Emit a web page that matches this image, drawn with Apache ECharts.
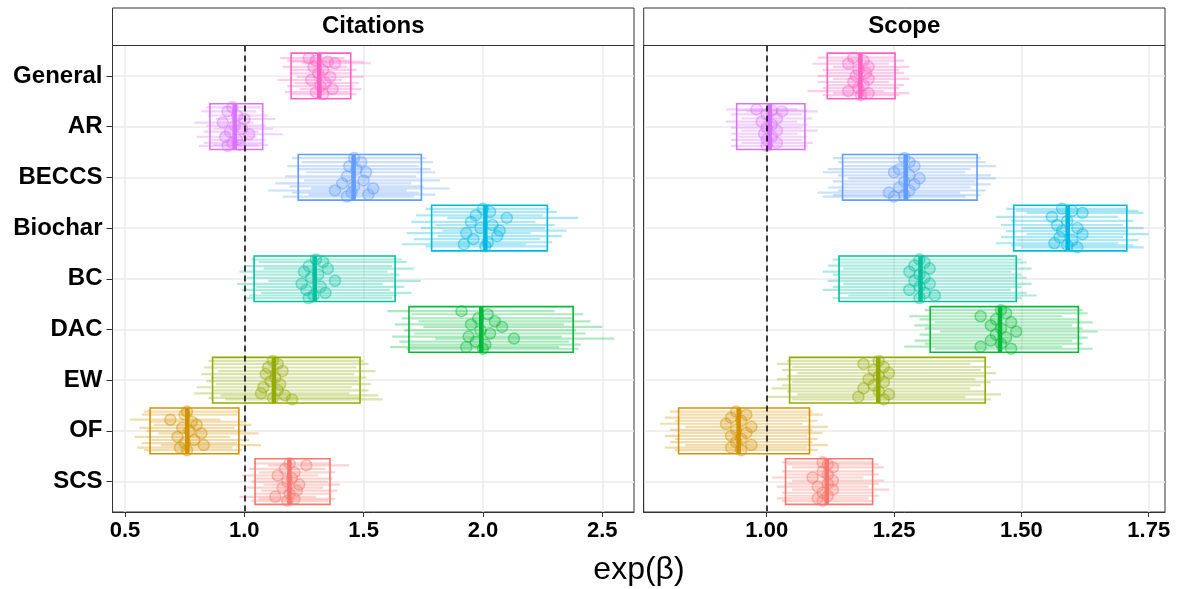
<!DOCTYPE html>
<html>
<head>
<meta charset="utf-8">
<script src="https://cdn.jsdelivr.net/npm/echarts@6/dist/echarts.min.js"></script>
<style>
html,body{margin:0;padding:0;background:#fff;}
#chart{width:1184px;height:589px;}
</style>
</head>
<body>
<div id="chart"></div>
<script>
// ---------- DATA ----------
const categories = ['General','AR','BECCS','Biochar','BC','DAC','EW','OF','SCS'];
const catColors = ['#FF61C3','#DB72FB','#619CFF','#00B9E3','#00C19F','#00BA38','#93AA00','#D39200','#F8766D'];
const panels = ['Citations','Scope'];

// pooled estimate (mean) and interval (box) per category
const citMean = [1.314,0.960,1.458,2.010,1.295,1.993,1.124,0.761,1.189];
const citLo   = [1.196,0.856,1.226,1.785,1.041,1.690,0.867,0.605,1.045];
const citHi   = [1.446,1.077,1.742,2.270,1.632,2.378,1.485,0.977,1.359];
const scoMean = [1.184,1.006,1.273,1.591,1.302,1.458,1.219,0.945,1.118];
const scoLo   = [1.119,0.941,1.149,1.485,1.142,1.321,1.045,0.827,1.037];
const scoHi   = [1.252,1.075,1.413,1.707,1.490,1.612,1.429,1.084,1.208];

const citTicks = [0.5,1.0,1.5,2.0,2.5];
const scoTicks = [1.00,1.25,1.50,1.75];
const refValue = 1;

// individual estimates: [estimate, vertical jitter, lower, upper]
const citGeneral = [[1.27,-0.35,1.15,1.42],[1.30,-0.30,1.18,1.44],[1.35,-0.28,1.20,1.50],[1.38,-0.25,1.24,1.53],[1.29,-0.18,1.16,1.43],[1.33,-0.12,1.20,1.47],[1.31,-0.05,1.19,1.45],[1.36,0.02,1.22,1.50],[1.28,0.08,1.14,1.41],[1.34,0.14,1.21,1.48],[1.32,0.20,1.18,1.46],[1.37,0.26,1.23,1.49],[1.30,0.32,1.17,1.44],[1.33,0.36,1.20,1.47]];
const citAR = [[0.95,-0.38,0.84,1.07],[0.93,-0.30,0.82,1.05],[0.97,-0.22,0.85,1.10],[1.00,-0.15,0.88,1.13],[0.91,-0.08,0.79,1.04],[0.96,-0.02,0.84,1.09],[0.99,0.04,0.87,1.12],[0.94,0.10,0.83,1.06],[1.02,0.15,0.90,1.16],[0.92,0.20,0.80,1.05],[0.97,0.26,0.86,1.09],[0.95,0.32,0.83,1.08],[0.98,0.36,0.87,1.10],[0.93,0.38,0.81,1.06]];
const citBECCS = [[1.46,-0.38,1.20,1.76],[1.49,-0.30,1.24,1.79],[1.44,-0.22,1.18,1.73],[1.47,-0.16,1.22,1.78],[1.51,-0.10,1.26,1.80],[1.43,-0.02,1.17,1.72],[1.50,0.06,1.25,1.82],[1.41,0.12,1.13,1.70],[1.46,0.18,1.19,1.75],[1.54,0.22,1.28,1.86],[1.38,0.26,1.10,1.68],[1.45,0.30,1.20,1.73],[1.52,0.34,1.27,1.80],[1.43,0.38,1.16,1.71]];
const citBiochar = [[2.00,-0.38,1.76,2.28],[2.03,-0.32,1.79,2.31],[1.97,-0.25,1.72,2.25],[2.10,-0.20,1.85,2.40],[1.95,-0.12,1.70,2.22],[2.04,-0.06,1.80,2.30],[1.99,0.00,1.74,2.26],[2.07,0.05,1.83,2.35],[1.93,0.10,1.68,2.20],[2.06,0.16,1.81,2.33],[1.96,0.22,1.71,2.24],[2.02,0.28,1.78,2.29],[1.92,0.32,1.66,2.18],[2.01,0.36,1.76,2.27]];
const citBC = [[1.30,-0.38,1.03,1.66],[1.33,-0.33,1.06,1.68],[1.27,-0.25,1.00,1.62],[1.35,-0.20,1.08,1.71],[1.25,-0.14,0.98,1.60],[1.31,-0.08,1.04,1.65],[1.28,-0.02,1.01,1.63],[1.38,0.04,1.10,1.74],[1.24,0.10,0.97,1.58],[1.32,0.16,1.05,1.67],[1.26,0.22,0.99,1.61],[1.34,0.28,1.07,1.70],[1.29,0.33,1.02,1.64],[1.27,0.38,1.00,1.62]];
const citDAC = [[1.91,-0.36,1.60,2.30],[2.02,-0.30,1.70,2.42],[1.98,-0.22,1.66,2.38],[2.05,-0.16,1.73,2.45],[1.95,-0.10,1.63,2.34],[2.08,-0.05,1.75,2.50],[1.99,0.02,1.67,2.39],[2.03,0.08,1.71,2.43],[1.94,0.14,1.62,2.33],[2.13,0.18,1.80,2.55],[1.97,0.24,1.65,2.36],[2.01,0.30,1.69,2.41],[1.93,0.35,1.61,2.32],[2.00,0.38,1.68,2.40]];
const citEW = [[1.12,-0.38,0.85,1.50],[1.14,-0.32,0.87,1.52],[1.10,-0.25,0.83,1.47],[1.16,-0.18,0.89,1.55],[1.09,-0.12,0.82,1.46],[1.13,-0.05,0.86,1.51],[1.11,0.02,0.84,1.48],[1.15,0.08,0.88,1.53],[1.08,0.14,0.80,1.45],[1.14,0.20,0.87,1.52],[1.07,0.26,0.79,1.44],[1.17,0.30,0.90,1.56],[1.12,0.35,0.85,1.49],[1.20,0.38,0.92,1.58]];
const citOF = [[0.76,-0.38,0.58,0.98],[0.75,-0.32,0.57,0.97],[0.69,-0.22,0.52,0.90],[0.78,-0.18,0.60,1.01],[0.80,-0.12,0.62,1.03],[0.74,-0.06,0.56,0.96],[0.77,0.00,0.59,1.00],[0.82,0.05,0.64,1.06],[0.72,0.12,0.54,0.94],[0.79,0.18,0.61,1.02],[0.75,0.24,0.57,0.97],[0.83,0.28,0.65,1.07],[0.73,0.33,0.55,0.95],[0.76,0.38,0.58,0.99]];
const citSCS = [[1.19,-0.36,1.04,1.36],[1.26,-0.32,1.10,1.44],[1.17,-0.25,1.02,1.34],[1.21,-0.18,1.06,1.38],[1.14,-0.12,0.99,1.31],[1.20,-0.06,1.05,1.37],[1.18,0.00,1.03,1.35],[1.23,0.06,1.08,1.40],[1.16,0.12,1.01,1.33],[1.22,0.18,1.07,1.39],[1.19,0.24,1.04,1.36],[1.13,0.30,0.98,1.30],[1.21,0.34,1.06,1.38],[1.18,0.38,1.03,1.35]];

const scoGeneral = [[1.17,-0.36,1.10,1.25],[1.19,-0.30,1.12,1.27],[1.16,-0.24,1.09,1.24],[1.20,-0.18,1.13,1.28],[1.18,-0.12,1.11,1.26],[1.195,-0.06,1.12,1.27],[1.175,0.00,1.10,1.25],[1.20,0.06,1.13,1.28],[1.17,0.12,1.10,1.24],[1.19,0.18,1.12,1.27],[1.18,0.24,1.11,1.26],[1.16,0.30,1.08,1.23],[1.20,0.34,1.13,1.28],[1.185,0.38,1.11,1.26]];
const scoAR = [[0.98,-0.34,0.92,1.06],[1.01,-0.32,0.94,1.08],[1.03,-0.30,0.96,1.10],[1.00,-0.24,0.93,1.07],[1.02,-0.16,0.95,1.09],[0.99,-0.10,0.92,1.06],[1.01,-0.04,0.94,1.08],[1.00,0.02,0.93,1.07],[1.02,0.08,0.95,1.10],[0.995,0.14,0.93,1.06],[1.01,0.20,0.94,1.08],[1.00,0.26,0.93,1.07],[1.02,0.32,0.95,1.09],[1.00,0.38,0.93,1.08]];
const scoBECCS = [[1.27,-0.38,1.13,1.42],[1.28,-0.30,1.14,1.43],[1.29,-0.22,1.15,1.45],[1.26,-0.16,1.12,1.40],[1.25,-0.10,1.11,1.39],[1.28,-0.04,1.14,1.44],[1.30,0.02,1.16,1.45],[1.27,0.08,1.13,1.41],[1.29,0.14,1.15,1.44],[1.26,0.20,1.12,1.40],[1.28,0.26,1.14,1.43],[1.24,0.30,1.10,1.38],[1.27,0.35,1.13,1.42],[1.25,0.38,1.11,1.39]];
const scoBiochar = [[1.58,-0.38,1.47,1.71],[1.60,-0.34,1.49,1.73],[1.62,-0.30,1.51,1.74],[1.56,-0.22,1.45,1.69],[1.59,-0.14,1.48,1.72],[1.57,-0.06,1.46,1.70],[1.61,0.00,1.50,1.74],[1.58,0.06,1.47,1.71],[1.62,0.12,1.51,1.75],[1.575,0.18,1.46,1.70],[1.60,0.24,1.49,1.73],[1.565,0.30,1.45,1.69],[1.59,0.34,1.48,1.72],[1.61,0.38,1.50,1.74]];
const scoBC = [[1.30,-0.38,1.13,1.50],[1.31,-0.32,1.14,1.51],[1.29,-0.26,1.12,1.49],[1.32,-0.20,1.15,1.52],[1.28,-0.14,1.11,1.48],[1.30,-0.08,1.13,1.50],[1.31,-0.02,1.14,1.51],[1.29,0.04,1.12,1.49],[1.32,0.10,1.15,1.52],[1.30,0.16,1.13,1.50],[1.28,0.22,1.11,1.48],[1.31,0.28,1.14,1.51],[1.33,0.33,1.16,1.53],[1.30,0.38,1.13,1.50]];
const scoDAC = [[1.46,-0.38,1.31,1.62],[1.47,-0.32,1.32,1.63],[1.42,-0.26,1.28,1.58],[1.45,-0.20,1.30,1.61],[1.48,-0.14,1.33,1.64],[1.44,-0.08,1.29,1.60],[1.46,-0.02,1.31,1.62],[1.49,0.04,1.34,1.65],[1.45,0.10,1.30,1.61],[1.47,0.16,1.32,1.63],[1.44,0.22,1.29,1.60],[1.46,0.28,1.31,1.62],[1.42,0.34,1.27,1.58],[1.48,0.38,1.33,1.64]];
const scoEW = [[1.22,-0.38,1.04,1.43],[1.19,-0.32,1.02,1.40],[1.23,-0.26,1.05,1.44],[1.21,-0.20,1.03,1.42],[1.24,-0.14,1.06,1.45],[1.22,-0.08,1.04,1.43],[1.20,-0.02,1.02,1.41],[1.23,0.04,1.05,1.44],[1.21,0.10,1.03,1.42],[1.19,0.16,1.01,1.40],[1.22,0.22,1.04,1.43],[1.24,0.28,1.06,1.46],[1.18,0.33,1.00,1.39],[1.23,0.38,1.05,1.44]];
const scoOF = [[0.94,-0.38,0.81,1.09],[0.96,-0.32,0.83,1.11],[0.93,-0.26,0.80,1.08],[0.95,-0.20,0.82,1.10],[0.92,-0.14,0.79,1.07],[0.97,-0.08,0.84,1.12],[0.94,-0.02,0.81,1.09],[0.96,0.04,0.83,1.11],[0.93,0.10,0.80,1.08],[0.95,0.16,0.82,1.10],[0.94,0.22,0.81,1.09],[0.97,0.28,0.84,1.12],[0.93,0.33,0.80,1.08],[0.95,0.38,0.82,1.10]];
const scoSCS = [[1.11,-0.38,1.03,1.21],[1.12,-0.34,1.04,1.22],[1.13,-0.28,1.05,1.23],[1.11,-0.20,1.03,1.21],[1.12,-0.14,1.04,1.22],[1.09,-0.08,1.01,1.19],[1.13,-0.02,1.05,1.23],[1.12,0.04,1.04,1.22],[1.10,0.10,1.02,1.20],[1.13,0.16,1.05,1.24],[1.11,0.22,1.03,1.21],[1.12,0.28,1.04,1.22],[1.10,0.33,1.02,1.20],[1.11,0.38,1.03,1.21]];

const citPoints = [citGeneral,citAR,citBECCS,citBiochar,citBC,citDAC,citEW,citOF,citSCS];
const scoPoints = [scoGeneral,scoAR,scoBECCS,scoBiochar,scoBC,scoDAC,scoEW,scoOF,scoSCS];

// ---------- STYLE / LAYOUT ----------
const FONT = '"Liberation Sans", Arial, Helvetica, sans-serif';
const HALF = 0.45;
const gridDefs = [
  {left:112.5, top:45.5, width:521.5, height:466.5},
  {left:643.7, top:45.5, width:521.3, height:466.5}
];
const xRanges = [[0.4476, 2.633],[0.7585, 1.782]];

function hexA(hex, a){
  const n = parseInt(hex.slice(1),16);
  return 'rgba('+((n>>16)&255)+','+((n>>8)&255)+','+(n&255)+','+a+')';
}

const chart = echarts.init(document.getElementById('chart'), null, {renderer:'canvas'});

const grids = gridDefs.map(g => Object.assign({show:true, borderColor:'#333', borderWidth:1, backgroundColor:'#fff'}, g));

const xAxes = [0,1].map(k => ({
  type:'value', gridIndex:k, min:xRanges[k][0], max:xRanges[k][1],
  axisLine:{show:true, onZero:false, lineStyle:{color:'#333', width:1}},
  axisTick:{show:true, length:5, lineStyle:{color:'#333', width:1}, customValues: k===0 ? citTicks : scoTicks},
  axisLabel:{show:true, margin:8, fontFamily:FONT, fontWeight:'bold', fontSize:22, color:'#000',
    customValues: k===0 ? citTicks : scoTicks,
    formatter: v => k===0 ? Number(v).toFixed(1) : Number(v).toFixed(2)},
  splitLine:{show:true, lineStyle:{color:'#ebebeb', width:1.5}}
}));

const catIdx = categories.map((c,i)=>i);
const yAxes = [0,1].map(k => ({
  type:'value', gridIndex:k, min:-0.6, max:8.6, inverse:true,
  axisLine:{show:true, onZero:false, lineStyle:{color:'#333', width:1}},
  axisTick:{show:k===0, length:6, lineStyle:{color:'#333', width:1}, customValues:catIdx},
  axisLabel:{show:k===0, margin:10, fontFamily:FONT, fontWeight:'bold', fontSize:24, color:'#000',
    customValues:catIdx, formatter: v => categories[Math.round(v)]},
  splitLine:{show:true, lineStyle:{color:'#ebebeb', width:1.5}}
}));

const series = [];
[[citMean,citLo,citHi,citPoints],[scoMean,scoLo,scoHi,scoPoints]].forEach((set,k) => {
  const [mean, lo, hi, pts] = set;
  const barData = [], ptData = [], boxData = [];
  pts.forEach((arr, i) => {
    arr.forEach(p => {
      barData.push([p[2], p[3], i + p[1], i]);
      ptData.push([p[0], i + p[1], i]);
    });
    boxData.push([lo[i], hi[i], mean[i], i]);
  });
  // individual intervals
  series.push({
    type:'custom', xAxisIndex:k, yAxisIndex:k, z:2, silent:true,
    data: barData, encode:{x:[0,1], y:2},
    renderItem:(params, api) => {
      const a = api.coord([api.value(0), api.value(2)]);
      const b = api.coord([api.value(1), api.value(2)]);
      const c = catColors[api.value(3)];
      return {type:'line', shape:{x1:a[0], y1:a[1], x2:b[0], y2:b[1]},
        style:{stroke:hexA(c,0.32), lineWidth:2.2}};
    }
  });
  // individual estimates
  series.push({
    type:'custom', xAxisIndex:k, yAxisIndex:k, z:3, silent:true,
    data: ptData, encode:{x:0, y:1},
    renderItem:(params, api) => {
      const a = api.coord([api.value(0), api.value(1)]);
      const c = catColors[api.value(2)];
      return {type:'circle', shape:{cx:a[0], cy:a[1], r:5.5},
        style:{fill:hexA(c,0.22), stroke:hexA(c,0.45), lineWidth:1.5}};
    }
  });
  // pooled interval box + mean line
  series.push({
    type:'custom', xAxisIndex:k, yAxisIndex:k, z:4, silent:true,
    data: boxData, encode:{x:[0,1], y:3},
    renderItem:(params, api) => {
      const i = api.value(3);
      const c = catColors[i];
      const p1 = api.coord([api.value(0), i - HALF]);
      const p2 = api.coord([api.value(1), i + HALF]);
      const m1 = api.coord([api.value(2), i - HALF]);
      const m2 = api.coord([api.value(2), i + HALF]);
      return {type:'group', children:[
        {type:'rect', shape:{x:p1[0], y:Math.min(p1[1],p2[1]), width:p2[0]-p1[0], height:Math.abs(p2[1]-p1[1])},
          style:{fill:'none', stroke:c, lineWidth:1.6}},
        {type:'line', shape:{x1:m1[0], y1:m1[1], x2:m2[0], y2:m2[1]},
          style:{stroke:c, lineWidth:4.5}}
      ]};
    },
    markLine:{
      silent:true, symbol:'none', z:10, animation:false,
      label:{show:false},
      lineStyle:{color:'#000', width:1.5, type:[6,4]},
      data:[{xAxis:refValue}]
    }
  });
});

const graphics = [];
gridDefs.forEach((g,k) => {
  graphics.push({type:'rect', z:100, shape:{x:g.left, y:8, width:g.width, height:g.top-8},
    style:{fill:'#fff', stroke:'#333', lineWidth:1}});
  graphics.push({type:'text', z:101, x:g.left+g.width/2, y:8+(g.top-8)/2,
    style:{text:panels[k], font:'bold 24px '+FONT, fill:'#000', textAlign:'center', textVerticalAlign:'middle'}});
});
graphics.push({type:'text', z:101, x:639, y:570,
  style:{text:'exp(\u03B2)', font:'32px '+FONT, fill:'#000', textAlign:'center', textVerticalAlign:'middle'}});

chart.setOption({
  animation:false,
  backgroundColor:'#fff',
  grid:grids,
  xAxis:xAxes,
  yAxis:yAxes,
  series:series,
  graphic:graphics
});
</script>
</body>
</html>
